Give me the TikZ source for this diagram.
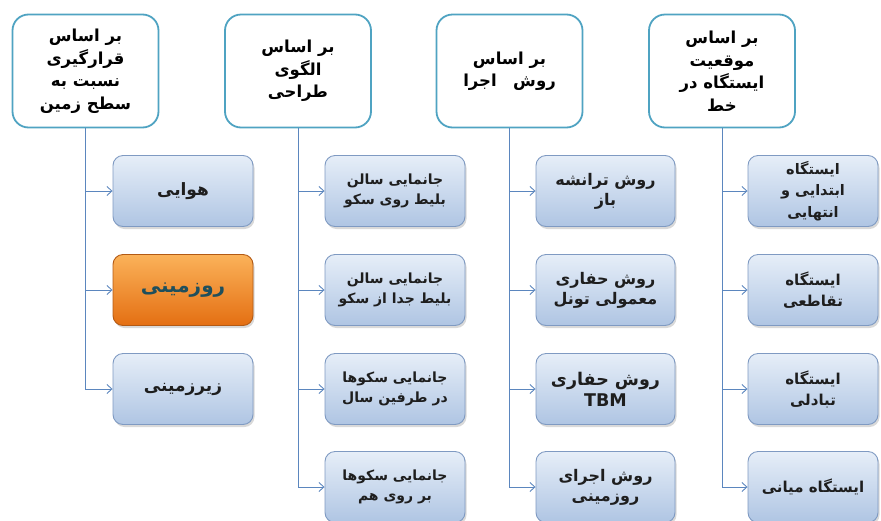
\documentclass[tikz,border=0pt]{standalone}
\usepackage{fontspec}
\TeXXeTstate=1
\newfontfamily\arabicfont[Script=Arabic]{DejaVu Sans}
\usetikzlibrary{arrows.meta,shadows}
\newcommand{\myrl}[1]{\beginR #1\endR}
\definecolor{headborder}{HTML}{4FA3C2}
\definecolor{linecol}{HTML}{5B86BE}
\definecolor{boxtop}{HTML}{E6EEF8}
\definecolor{boxbot}{HTML}{AFC5E3}
\definecolor{boxdraw}{HTML}{7F9AC2}
\definecolor{orgtop}{HTML}{FBB25A}
\definecolor{orgbot}{HTML}{E46F12}
\definecolor{orgdraw}{HTML}{B35A14}
\definecolor{orgtext}{HTML}{1F4F5C}
\definecolor{txt}{HTML}{1E1E1E}
\tikzset{
  headbox/.style={draw=headborder, line width=1.8pt, fill=white, rounded corners=16pt,
    minimum width=146pt, minimum height=113pt, align=center, text=black,
    font=\arabicfont\bfseries\fontsize{16.5}{22.5}\selectfont},
  childbox/.style={draw=boxdraw, line width=0.9pt, rounded corners=10pt,
    top color=boxtop, bottom color=boxbot, align=center, text=txt,
    drop shadow={opacity=0.3, shadow xshift=1.5pt, shadow yshift=-2.5pt},
    font=\arabicfont\bfseries\fontsize{14}{20}\selectfont},
  orangebox/.style={childbox, draw=orgdraw, top color=orgtop, bottom color=orgbot, text=orgtext,
    font=\arabicfont\bfseries\fontsize{20}{24}\selectfont},
  bigf/.style={font=\arabicfont\bfseries\fontsize{16}{20}\selectfont},
  colfourf/.style={font=\arabicfont\bfseries\fontsize{15}{21}\selectfont},
  conn/.style={draw=linecol, line width=0.9pt, -{Straight Barb[length=5pt,width=9pt]}},
}
\begin{document}
\begin{tikzpicture}[x=1pt,y=-1pt]
\useasboundingbox (0,0) rectangle (881,520);
% headers
\node[headbox] (h1) at (85.5,71) {\myrl{بر اساس}\\\myrl{قرارگیری}\\\myrl{نسبت به}\\\myrl{سطح زمین}};
\node[headbox] (h2) at (298,71) {\myrl{بر اساس}\\\myrl{الگوی}\\\myrl{طراحی}};
\node[headbox] (h3) at (509.5,71) {\myrl{بر اساس}\\\myrl{روش\quad اجرا}};
\node[headbox] (h4) at (722,71) {\myrl{بر اساس}\\\myrl{موقعیت}\\\myrl{ایستگاه در}\\\myrl{خط}};
% column 1
\begin{scope}[every node/.append style={minimum width=140pt, minimum height=71pt}]
\node[childbox, font=\arabicfont\bfseries\fontsize{17}{21}\selectfont] (a1) at (183,191) {\myrl{هوایی}};
\node[orangebox] (a2) at (183,290) {\myrl{روزمینی}};
\node[childbox, font=\arabicfont\bfseries\fontsize{17}{21}\selectfont] (a3) at (183,389) {\myrl{زیرزمینی}};
\end{scope}
% column 2
\begin{scope}[every node/.append style={minimum width=140pt, minimum height=71pt}]
\node[childbox] (b1) at (395,191) {\myrl{جانمایی سالن}\\\myrl{بلیط روی سکو}};
\node[childbox] (b2) at (395,290) {\myrl{جانمایی سالن}\\\myrl{بلیط جدا از سکو}};
\node[childbox] (b3) at (395,389) {\myrl{جانمایی سکوها}\\\myrl{در طرفین سال}};
\node[childbox] (b4) at (395,487) {\myrl{جانمایی سکوها}\\\myrl{بر روی هم}};
\end{scope}
% column 3
\begin{scope}[every node/.append style={minimum width=139pt, minimum height=71pt}]
\node[childbox, bigf] (c1) at (605.5,191) {\myrl{روش ترانشه}\\\myrl{باز}};
\node[childbox, bigf] (c2) at (605.5,290) {\myrl{روش حفاری}\\\myrl{معمولی تونل}};
\node[childbox, font=\arabicfont\bfseries\fontsize{17.5}{21}\selectfont] (c3) at (605.5,389) {\myrl{روش حفاری}\\TBM};
\node[childbox, bigf] (c4) at (605.5,487) {\myrl{روش اجرای}\\\myrl{روزمینی}};
\end{scope}
% column 4
\begin{scope}[every node/.append style={minimum width=130pt, minimum height=71pt}]
\node[childbox, font=\arabicfont\bfseries\fontsize{14.5}{21.5}\selectfont] (d1) at (813,191) {\myrl{ایستگاه}\\\myrl{ابتدایی و}\\\myrl{انتهایی}};
\node[childbox, colfourf] (d2) at (813,290) {\myrl{ایستگاه}\\\myrl{تقاطعی}};
\node[childbox, colfourf] (d3) at (813,389) {\myrl{ایستگاه}\\\myrl{تبادلی}};
\node[childbox, colfourf] (d4) at (813,487) {\myrl{ایستگاه میانی}};
\end{scope}
% connectors
\foreach \c in {a1,a2,a3} \draw[conn] (h1.south) |- (\c.west);
\foreach \c in {b1,b2,b3,b4} \draw[conn] (h2.south) |- (\c.west);
\foreach \c in {c1,c2,c3,c4} \draw[conn] (h3.south) |- (\c.west);
\foreach \c in {d1,d2,d3,d4} \draw[conn] (h4.south) |- (\c.west);
\end{tikzpicture}
\end{document}
